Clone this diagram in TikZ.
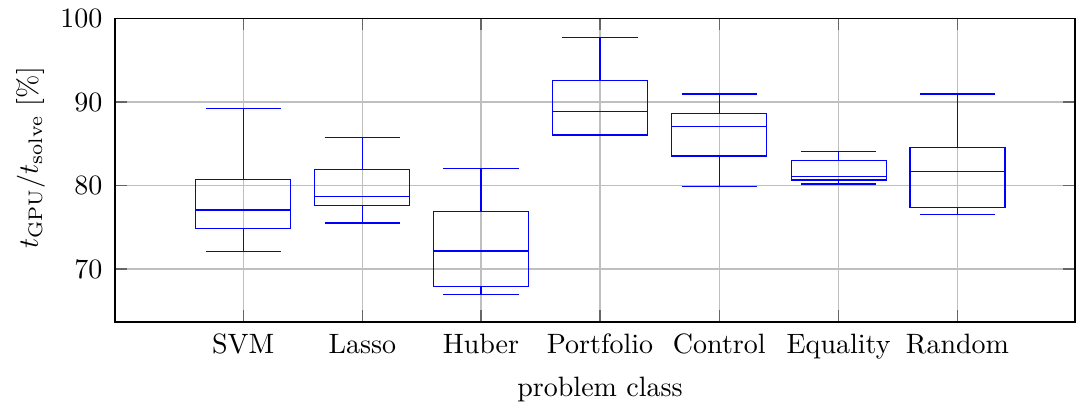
\documentclass[tikz,border=0pt]{standalone}
\begin{document}
\begin{tikzpicture}[x=0.357143pt,y=-0.357143pt,
  gridline/.style={black!25, line width=0.4pt},
  tickline/.style={black!60, line width=0.4pt},
  axisline/.style={black, line width=0.4pt},
  boxline/.style={blue, line width=0.4pt},
  ticklabel/.style={inner sep=0pt, font=\normalsize}]
\useasboundingbox (0,0) rectangle (1078,407);
\newcommand\bxp[6]{%
  \draw[boxline] (#1-47.5,#3) rectangle (#1+47.5,#5);
  \draw[boxline] (#1-47.5,#4) -- (#1+47.5,#4);
  \draw[boxline] (#1,#3) -- (#1,#2);
  \draw[boxline] (#1-37.7,#2) -- (#1+37.7,#2);
  \draw[boxline] (#1,#5) -- (#1,#6);
  \draw[boxline] (#1-37.7,#6) -- (#1+37.7,#6);}
% grid
\foreach \yy in {102,185.3,269} {
  \draw[gridline] (115,\yy) -- (1075,\yy);
  \draw[tickline] (115,\yy) -- (127,\yy);
  \draw[tickline] (1075,\yy) -- (1063,\yy);
}
\foreach \xx in {243.3,362.3,481,600,719.3,838.6,957.5} {
  \draw[gridline] (\xx,18.3) -- (\xx,322);
  \draw[tickline] (\xx,322) -- (\xx,310);
  \draw[tickline] (\xx,18.3) -- (\xx,30.3);
}
% boxes
\bxp{243.3}{108.7}{179.7}{210}{228.3}{251.3}
\bxp{362.3}{137.7}{169.3}{196.3}{205.7}{223}
\bxp{481}{168.3}{211.3}{251}{286.3}{294.3}
\bxp{600}{37.3}{80.3}{111.7}{135}{135}
\bxp{719.3}{94}{113.7}{126.7}{156}{186.7}
\bxp{838.6}{151.3}{160.3}{176.3}{180}{184}
\bxp{957.5}{94}{147.3}{171.7}{207.7}{214.3}
% axis frame
\draw[axisline] (115,18.3) rectangle (1075,322);
% y tick labels
\node[ticklabel, anchor=east] (y100) at (103,18.3) {100};
\node[ticklabel, anchor=east] (y90) at (103,102) {90};
\node[ticklabel, anchor=east] (y80) at (103,185.3) {80};
\node[ticklabel, anchor=east] (y70) at (103,269) {70};
% x tick labels
\node[ticklabel, anchor=base] (xa) at (243.3,353) {SVM};
\node[ticklabel, anchor=base] (xb) at (362.3,353) {Lasso};
\node[ticklabel, anchor=base] (xc) at (481,353) {Huber};
\node[ticklabel, anchor=base] (xd) at (600,353) {Portfolio};
\node[ticklabel, anchor=base] (xe) at (719.3,353) {Control};
\node[ticklabel, anchor=base] (xf) at (838.6,353) {Equality};
\node[ticklabel, anchor=base] (xg) at (957.5,353) {Random};
% axis labels
\node[ticklabel, anchor=base] (xlab) at (600,396) {problem class};
\node[ticklabel, rotate=90, anchor=base] (ylab) at (38,158) {$t_{\mathrm{GPU}}/t_{\mathrm{solve}}$ [\%]};
\end{tikzpicture}
\end{document}
